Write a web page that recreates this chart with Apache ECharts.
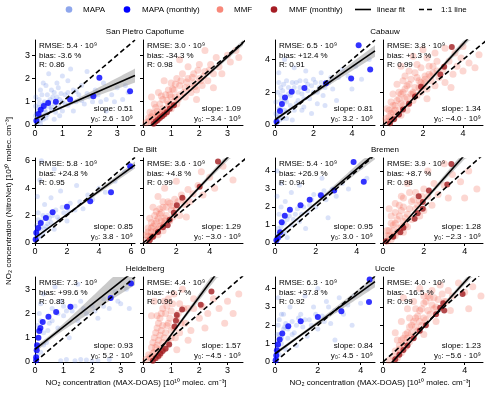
<!DOCTYPE html>
<html><head><meta charset="utf-8">
<script src="https://cdn.jsdelivr.net/npm/echarts@6/dist/echarts.min.js"></script>
<style>html,body{margin:0;padding:0;background:#fff}#c{width:500px;height:401px}</style>
</head><body><div id="c"></div>
<script>
const FONT = '"Liberation Sans", Arial, Helvetica, sans-serif';
// ---------- data ----------
const sites = ['San Pietro Capofiume','Cabauw','De Bilt','Bremen','Heidelberg','Uccle'];
const yMax = [3.65, 5.2, 6.2, 4.72, 3.5, 4.63];
const xMaxMapa = [3.65, 5.2, 6.25, 4.9, 3.5, 4.67];
const xMaxMmf = [3.55, 5.0, 6.0, 4.9, 3.55, 4.9];
const yTicks = [[0,1,2,3],[0,2,4],[0,2,4,6],[0,1,2,3,4],[0,1,2,3],[0,1,2,3,4]];
const xTicksMapa = [[0,1,2,3],[0,2,4],[0,2,4,6],[0,2,4],[0,1,2,3],[0,2,4]];
const xTicksMmf = [[0,1,2,3],[0,2,4],[0,2,4],[0,2,4],[0,1,2,3],[0,2,4]];

const rmseMapa = ['5.4','6.5','5.8','5.4','7.3','6.3'];
const rmseMmf  = ['3.0','3.8','3.6','3.9','4.4','4.0'];
const biasMapa = ['-3.6','+12.4','+24.8','+26.9','+99.6','+37.8'];
const biasMmf  = ['-34.3','+1.3','+4.8','+8.7','+6.7','-16.5'];
const rMapa = ['0.86','0.91','0.95','0.94','0.83','0.92'];
const rMmf  = ['0.98','0.99','0.99','0.98','0.96','0.99'];
const slopeMapa = [0.51, 0.81, 0.85, 0.95, 0.93, 0.84];
const slopeMmf  = [1.09, 1.34, 1.29, 1.28, 1.57, 1.23];
const y0Mapa = [2.6, 3.2, 3.8, 3.0, 5.2, 4.5];      // 10^9
const y0Mmf  = [-3.4, -4.0, -3.0, -2.3, -4.5, -5.6]; // 10^9
// confidence band: [half width at centre, half width at end, centre x]
const bandMapa = [[0.05,0.3,0.8],[0.08,0.35,1.0],[0.05,0.25,1.0],[0.05,0.3,1.0],[0.1,0.6,0.5],[0.08,0.3,1.0]];
const bandMmf  = [[0.03,0.12,0.8],[0.03,0.25,1.0],[0.04,0.3,1.0],[0.04,0.3,1.0],[0.05,0.3,0.8],[0.03,0.2,1.5]];

const spcMapa = [[0.05,0.1],[0.1,0.3],[0.2,0.2],[0.3,0.4],[0.1,0.6],[0.25,0.7],[0.4,0.55],[0.5,0.8],[0.6,0.65],[0.15,0.9],[0.35,1.0],[0.55,1.1],[0.7,0.9],[0.8,1.2],[0.9,0.75],[1.0,1.0],[1.1,1.3],[0.45,1.3],[0.2,1.5],[0.6,1.5],[1.2,0.85],[1.3,1.15],[1.4,1.5],[1.5,1.0],[1.6,1.3],[0.3,1.8],[0.8,1.8],[1.0,2.1],[1.7,1.7],[1.8,0.9],[2.0,1.2],[2.2,1.5],[2.4,1.0],[2.5,1.8],[0.5,2.2],[1.3,2.4],[2.8,1.3],[3.0,1.6],[3.2,1.1],[3.4,1.4],[2.6,0.6],[0.9,0.4],[1.4,0.6],[0.7,0.25],[0.2,0.05],[1.9,2.3],[0.02,0.4],[0.02,0.8],[0.03,1.2],
  [0.1,0.45],[0.2,0.6],[0.3,0.9],[0.4,0.3],[0.5,1.0],[0.6,0.75],[0.7,1.4],[0.8,0.95],[0.9,1.1],[1.0,0.6],[1.1,0.9],[1.2,1.4],[0.15,1.1],[0.25,1.3],[0.35,0.65],[0.45,0.45],[0.65,1.2],[0.75,0.55],[0.85,1.6],[0.95,1.35],[1.5,1.45],[1.7,1.05],[1.9,1.35],[2.1,1.0],[2.3,1.3],[2.6,1.1],[2.9,1.0],[3.3,1.7],[1.2,1.9],[0.4,1.7],[0.1,0.15],[0.05,0.5],[0.15,0.75],[0.3,0.25]];
const spcMapaMonthly = [[0.05,0.18],[0.13,0.47],[0.21,0.65],[0.32,0.82],[0.48,0.94],[0.76,1.0],[1.28,1.1],[2.13,1.23],[2.35,2.03],[3.47,1.45]];
const spcMmf = [[0.1,0.1],[0.2,0.3],[0.3,0.15],[0.35,0.5],[0.4,0.3],[0.5,0.6],[0.5,0.2],[0.6,0.45],[0.6,0.9],[0.7,0.7],[0.7,1.1],[0.8,0.5],[0.8,1.3],[0.9,0.9],[0.9,1.5],[1.0,0.7],[1.0,1.2],[1.0,1.8],[1.1,1.0],[1.1,1.5],[1.2,2.0],[1.2,0.9],[1.3,1.3],[1.3,1.7],[1.4,2.2],[1.5,1.2],[1.5,1.6],[1.6,2.0],[1.6,2.5],[1.7,1.4],[1.8,1.8],[1.8,2.2],[1.9,1.5],[2.0,2.0],[2.0,2.6],[2.1,1.7],[2.2,2.3],[2.3,1.9],[2.4,2.6],[2.5,2.2],[2.6,2.9],[2.7,2.5],[2.8,2.2],[3.0,3.0],[3.1,2.7],[3.3,3.2],[0.4,0.9],[0.3,1.2],[0.55,1.4],[0.75,1.9],[1.3,2.8],[2.2,3.2],[3.4,2.9],[1.9,1.1],[2.5,1.6],
  [0.25,0.55],[0.45,0.75],[0.65,1.25],[0.85,1.05],[0.95,1.3],[1.05,1.55],[1.15,1.75],[1.25,1.1],[1.35,1.9],[1.45,1.4],[1.55,1.85],[1.65,1.6],[1.75,2.05],[1.85,1.65],[1.95,2.35],[2.05,1.9],[2.15,2.1],[2.35,2.35],[0.55,0.4],[0.65,0.55],[0.75,0.6],[0.85,0.7],[0.95,0.85],[1.05,0.85],[1.15,1.2],[0.3,0.35],[0.2,0.15],[0.5,0.45]];
const spcMmfMonthly = [[0.38,0.05],[0.45,0.15],[0.52,0.22],[0.6,0.3],[0.68,0.38],[0.75,0.45],[0.85,0.55],[0.95,0.7],[1.1,0.85]];

const cabMapa = [[0.1,0.2],[0.2,0.5],[0.4,0.4],[0.6,0.8],[0.3,1.0],[0.8,1.2],[1.0,0.9],[0.5,1.5],[1.2,1.5],[1.5,1.1],[0.7,1.9],[1.4,1.9],[1.8,1.6],[2.0,2.0],[0.3,2.3],[1.0,2.3],[1.7,2.5],[2.3,2.3],[2.5,1.8],[0.6,2.7],[1.3,2.7],[2.0,2.8],[2.8,2.6],[3.0,2.2],[0.2,3.2],[1.0,3.5],[0.5,4.0],[1.6,3.3],[2.4,3.2],[3.3,2.9],[3.5,3.4],[3.8,3.0],[4.2,3.6],[4.5,2.8],[4.9,4.0],[2.6,1.2],[1.9,0.7],[3.2,1.5],[0.05,0.7],[0.05,1.4],[0.9,0.3],[4.0,2.2],[0.3,1.8],[2.2,1.3],[0.15,2.0],
  [0.1,0.6],[0.2,1.0],[0.3,1.5],[0.4,2.1],[0.5,0.9],[0.6,1.4],[0.7,2.3],[0.8,1.8],[0.9,2.6],[1.1,1.3],[1.2,2.0],[1.3,2.3],[1.5,1.6],[1.6,2.7],[1.7,2.1],[1.9,2.4],[2.1,2.6],[2.2,2.0],[2.4,2.6],[2.6,2.3],[2.7,2.6],[0.2,2.6],[0.45,2.5],[1.1,2.6],[0.6,0.4],[0.25,0.3],[1.4,0.9],[2.9,2.9]];
const cabMapaMonthly = [[0.08,0.2],[0.26,0.85],[0.36,1.28],[0.52,1.69],[0.87,2.03],[1.53,2.27],[2.65,2.55],[3.96,2.85],[4.35,4.88],[4.95,3.4]];
const cabMmf = [[0.2,0.2],[0.3,0.5],[0.4,0.3],[0.5,0.8],[0.6,0.5],[0.6,1.2],[0.8,0.9],[0.8,1.6],[0.9,0.6],[1.0,1.2],[1.0,2.0],[1.1,1.6],[1.2,0.9],[1.2,2.4],[1.3,1.3],[1.4,1.9],[1.4,2.8],[1.5,1.5],[1.6,2.3],[1.6,3.2],[1.7,1.8],[1.8,2.7],[1.9,2.0],[1.9,3.5],[2.0,2.4],[2.1,3.0],[2.2,2.2],[2.3,3.6],[2.4,2.7],[2.5,3.2],[2.6,2.4],[2.7,3.9],[2.8,2.9],[3.0,3.4],[3.1,2.6],[3.3,3.9],[3.5,3.1],[3.7,3.6],[4.0,3.3],[4.3,3.8],[4.6,3.5],[0.7,2.5],[0.5,1.9],[1.1,3.0],[0.9,3.6],[1.5,4.2],[2.0,4.6],[2.6,4.4],[3.1,4.7],[4.0,4.8],[4.8,4.3],[2.2,1.6],[3.4,2.3],[0.4,1.4],
  [0.3,0.9],[0.5,1.2],[0.7,1.5],[0.9,1.9],[1.1,2.2],[1.3,2.5],[1.5,2.0],[1.7,2.9],[1.9,2.6],[2.1,2.8],[2.3,3.1],[2.5,3.6],[2.7,3.3],[0.6,0.9],[0.9,1.3],[1.2,1.7],[1.5,1.9],[1.8,2.3],[2.1,2.6],[2.4,3.0],[0.4,0.7],[0.8,2.0],[1.0,2.7],[1.3,3.3],[1.7,3.7],[2.2,4.1],[0.2,1.0],[3.6,4.4],[3.9,4.1],[0.15,0.4]];
const cabMmfMonthly = [[0.35,0.1],[0.55,0.35],[0.8,0.65],[1.0,0.95],[1.3,1.3],[1.6,1.75],[1.9,2.34],[2.87,3.09],[3.06,3.56],[3.44,4.77]];

const dbMapa = [[0.05,0.3],[0.1,0.6],[0.2,0.4],[0.3,1.0],[0.5,0.7],[0.4,1.6],[0.7,1.2],[0.8,2.0],[1.0,1.5],[1.2,1.0],[1.3,2.4],[1.5,1.7],[0.6,2.8],[1.8,2.2],[2.0,1.6],[2.2,2.9],[2.5,2.4],[1.0,3.3],[2.8,3.0],[3.0,2.5],[3.3,3.5],[3.6,3.2],[4.0,4.0],[4.4,3.7],[0.2,2.2],[1.6,3.8],[2.6,4.2],[0.3,4.6],[1.2,5.4],[0.4,6.0],[5.0,4.5],[5.6,5.2],[0.1,1.3],[0.15,3.4],
  [0.1,0.9],[0.3,0.5],[0.4,1.2],[0.6,1.0],[0.8,1.4],[0.9,1.8],[1.1,2.0],[1.4,1.9],[1.7,2.6],[2.1,2.3],[0.5,2.0],[0.2,1.7]];
const dbMapaMonthly = [[0.04,0.25],[0.08,0.74],[0.2,1.1],[0.36,1.45],[0.68,1.82],[1.1,2.25],[2.0,2.65],[3.45,3.05],[4.75,3.7],[5.95,5.6]];
const dbMmf = [[0.2,0.2],[0.3,0.5],[0.4,0.3],[0.5,0.8],[0.6,0.5],[0.6,1.2],[0.8,0.9],[0.8,1.6],[0.9,0.6],[1.0,1.2],[1.0,2.1],[1.1,1.6],[1.2,0.9],[1.2,2.6],[1.3,1.4],[1.4,2.0],[1.5,3.0],[1.6,1.6],[1.7,2.4],[1.8,1.9],[1.9,3.2],[2.0,2.5],[2.2,2.0],[2.3,3.5],[2.5,2.8],[2.7,3.9],[2.8,3.0],[3.0,3.6],[3.3,4.2],[3.6,3.5],[4.0,4.8],[4.3,4.0],[0.4,1.8],[0.6,2.6],[0.9,3.4],[1.3,4.0],[2.0,4.5],[3.5,5.2],[4.8,5.6],[5.4,4.6],[0.3,1.1],[2.6,1.9],
  [0.3,0.8],[0.5,1.1],[0.7,1.4],[0.9,1.8],[1.1,2.2],[1.3,1.8],[0.7,2.0],[1.0,2.5],[1.4,2.6],[1.6,2.9],[0.5,0.5],[0.7,0.7],[0.9,1.0],[1.1,1.3],[1.3,1.6],[0.5,1.5],[0.8,2.3],[1.2,3.0],[1.8,2.7],[2.1,3.0],[0.2,0.6],[2.4,3.2]];
const dbMmfMonthly = [[0.4,0.2],[0.6,0.45],[0.9,0.8],[1.2,1.15],[1.48,1.3],[1.6,1.7],[1.85,2.2],[2.03,2.75],[2.36,3.3],[3.4,4.1],[4.5,5.95]];

const brMapa = [[0.05,0.2],[0.1,0.5],[0.2,0.3],[0.3,0.9],[0.5,0.6],[0.6,1.3],[0.8,1.0],[1.0,1.6],[1.2,1.2],[1.4,2.0],[1.6,1.7],[1.8,2.4],[2.0,2.0],[2.2,2.7],[2.5,2.4],[2.8,3.0],[3.0,2.6],[3.3,3.3],[3.6,3.0],[0.2,1.6],[0.5,2.3],[0.8,2.8],[0.3,3.3],[1.2,3.2],[2.3,3.6],[3.8,3.9],[4.2,4.2],[0.1,4.0],[2.6,1.4],[1.5,0.8],[0.1,2.6],[4.5,3.6],
  [0.15,0.8],[0.4,0.5],[0.45,1.1],[0.7,1.5],[0.9,1.3],[1.1,1.9],[1.3,1.6],[1.7,2.1],[1.9,2.7],[2.4,2.9],[0.3,2.0],[0.6,0.3]];
const brMapaMonthly = [[0.07,0.15],[0.15,0.3],[0.25,0.6],[0.33,1.15],[0.48,1.52],[0.73,1.85],[1.25,2.1],[1.7,2.4],[2.25,2.65],[2.9,2.92],[3.85,4.5],[4.35,3.4]];
const brMmf = [[0.2,0.1],[0.3,0.4],[0.4,0.2],[0.5,0.7],[0.6,0.4],[0.6,1.1],[0.8,0.8],[0.8,1.5],[1.0,0.6],[1.0,1.2],[1.0,2.0],[1.2,1.6],[1.2,0.9],[1.4,2.3],[1.4,1.3],[1.6,1.9],[1.6,2.8],[1.8,1.5],[1.8,2.3],[2.0,3.0],[2.0,1.8],[2.2,2.6],[2.4,2.1],[2.5,3.3],[2.7,2.7],[3.0,3.2],[3.2,2.5],[3.4,3.8],[3.8,3.4],[4.2,4.0],[4.6,3.0],[0.4,1.5],[0.6,2.2],[0.9,2.6],[1.2,3.3],[2.2,4.0],[3.0,4.4],[4.0,2.5],[0.2,0.7],
  [0.3,0.7],[0.5,1.0],[0.7,1.3],[0.9,1.8],[1.1,1.4],[1.3,1.9],[0.5,0.4],[0.7,0.6],[0.9,0.9],[1.1,1.0],[0.4,1.1],[0.6,1.7],[0.8,2.1],[1.0,2.5],[1.5,2.4],[1.7,2.1],[0.2,0.4],[0.3,1.9],[1.3,2.8],[1.9,2.6]];
const brMmfMonthly = [[0.15,0.1],[0.5,0.35],[0.85,0.6],[1.0,0.85],[1.55,1.35],[1.7,1.65],[1.75,2.6],[1.95,1.9],[1.95,2.28],[2.25,2.92],[3.15,3.25],[3.35,4.38]];

const hdMapa = [[0.05,0.2],[0.05,0.6],[0.1,1.0],[0.1,1.5],[0.15,2.0],[0.2,0.4],[0.3,1.2],[0.4,0.8],[0.5,1.6],[0.6,2.2],[0.8,1.4],[0.9,2.5],[1.0,1.9],[1.2,1.0],[1.3,2.1],[1.5,1.7],[1.6,2.5],[1.8,2.0],[2.0,2.3],[2.2,1.8],[2.4,2.6],[2.6,2.2],[2.8,2.9],[3.0,2.4],[3.2,3.0],[1.4,0.05],[1.8,0.08],[2.2,0.05],[2.6,0.1],[1.1,0.1],[0.3,2.8],[0.7,3.1],[1.5,3.2],[3.3,2.2],
  [0.08,0.3],[0.1,1.3],[0.2,1.7],[0.3,0.7],[0.45,1.3],[0.6,1.7],[0.8,2.0],[1.0,2.3],[1.1,2.1],[1.4,2.3],[1.7,2.2],[2.1,2.1],[0.2,2.4],[2.4,2.3],[2.9,2.5],[0.9,0.05],[1.6,0.1],[2.0,0.04]];
const hdMapaMonthly = [[0.04,0.07],[0.04,0.2],[0.06,0.48],[0.07,0.69],[0.12,1.0],[0.15,1.28],[0.19,1.4],[0.27,1.65],[0.47,1.86],[0.74,2.06],[1.24,2.27],[2.65,2.64],[3.36,3.23]];
const hdMmf = [[0.1,0.1],[0.2,0.3],[0.3,0.15],[0.3,0.6],[0.4,0.4],[0.4,1.0],[0.5,0.2],[0.5,0.7],[0.5,1.4],[0.6,0.5],[0.6,1.1],[0.6,1.8],[0.7,0.8],[0.7,1.5],[0.7,2.2],[0.8,0.6],[0.8,1.2],[0.8,2.0],[0.9,1.6],[0.9,2.6],[1.0,1.0],[1.0,2.1],[1.1,1.4],[1.1,2.8],[1.2,1.8],[1.3,1.2],[1.3,2.4],[1.4,3.0],[1.5,1.6],[1.6,2.2],[1.7,1.3],[1.8,2.6],[2.0,1.8],[2.1,2.3],[2.3,2.0],[2.5,2.6],[2.7,2.2],[3.0,2.5],[3.2,2.0],[0.3,1.9],[0.4,2.5],[1.2,0.5],[1.6,0.9],[2.2,1.4],[2.9,1.6],[3.4,2.8],
  [0.35,0.8],[0.45,1.2],[0.55,1.6],[0.65,1.3],[0.75,1.0],[0.85,1.5],[0.95,1.8],[1.05,2.4],[0.55,0.9],[0.65,2.0],[0.75,2.5],[0.85,2.3],[0.45,0.6],[0.35,0.35],[0.25,0.2],[0.6,0.3],[0.7,0.55],[0.9,0.8],[1.0,1.3],[1.15,1.0],[1.25,2.0],[1.35,1.6],[1.45,2.2],[1.8,2.2],[0.5,1.9]];
const hdMmfMonthly = [[0.35,0.05],[0.45,0.15],[0.55,0.25],[0.62,0.35],[0.7,0.45],[0.8,0.55],[0.93,0.72],[1.12,1.46],[1.17,1.7],[1.2,1.94],[1.39,2.16],[2.05,2.36],[2.43,2.9]];

const ucMapa = [[0.05,0.2],[0.05,0.6],[0.05,1.0],[0.1,1.5],[0.2,0.4],[0.3,1.0],[0.4,1.8],[0.5,0.7],[0.6,1.3],[0.8,2.2],[0.9,1.6],[1.0,0.9],[1.2,2.6],[1.3,1.9],[1.5,1.4],[1.6,2.3],[1.8,3.0],[2.0,1.8],[2.2,2.5],[2.4,3.3],[2.6,2.1],[2.8,2.8],[3.0,3.5],[3.2,2.6],[3.4,3.1],[3.7,3.6],[4.0,3.2],[4.3,4.0],[0.3,2.6],[0.7,3.0],[1.4,3.6],[2.0,4.0],[2.8,1.2],[3.6,2.0],[0.15,3.5],
  [0.08,0.4],[0.1,0.8],[0.1,1.2],[0.15,2.0],[0.2,1.5],[0.3,1.3],[0.45,1.9],[0.5,2.1],[0.6,1.8],[0.8,1.5],[1.0,2.0],[1.1,2.4],[1.4,2.3],[1.7,2.0],[1.9,2.6],[2.3,2.2],[2.5,3.0],[0.2,2.3],[0.4,2.6],[3.1,3.0]];
const ucMapaMonthly = [[0.03,0.09],[0.06,0.36],[0.09,0.64],[0.14,0.95],[0.22,1.22],[0.34,1.55],[0.62,1.95],[1.2,2.22],[2.0,2.45],[3.1,2.76],[4.39,3.27],[4.42,4.5]];
const ucMmf = [[0.3,0.1],[0.5,0.3],[0.6,0.6],[0.7,0.2],[0.8,0.9],[0.9,0.5],[1.0,1.3],[1.1,0.8],[1.2,1.6],[1.3,1.1],[1.4,2.0],[1.5,1.4],[1.6,2.4],[1.7,1.7],[1.8,2.8],[1.9,2.0],[2.0,3.2],[2.1,2.3],[2.2,3.6],[2.3,2.6],[2.4,3.9],[2.5,2.9],[2.7,3.4],[2.8,4.2],[3.0,3.3],[3.2,3.9],[3.4,3.6],[3.7,4.3],[4.0,3.8],[4.4,4.1],[4.8,3.6],[1.2,2.9],[1.5,3.3],[1.8,4.0],[2.0,1.5],[2.6,2.2],[3.3,2.8],[0.9,2.2],[1.0,3.5],[0.6,1.6],[4.2,2.9],
  [0.9,1.2],[1.1,1.5],[1.3,1.9],[1.5,2.2],[1.7,2.5],[1.9,2.9],[2.1,3.3],[2.3,3.5],[2.5,3.5],[1.4,1.6],[1.6,1.9],[1.8,2.2],[2.0,2.4],[2.2,2.8],[2.4,3.1],[2.6,3.0],[1.2,1.3],[1.0,1.0],[0.8,0.7],[1.3,2.4],[1.6,2.9],[2.0,3.6],[2.9,3.7],[3.1,3.3],[0.7,1.2]];
const ucMmfMonthly = [[0.6,0.15],[0.8,0.4],[1.0,0.65],[1.2,0.9],[1.5,1.3],[1.8,1.7],[2.1,2.0],[2.6,2.6],[2.8,2.95],[2.95,3.2],[3.0,2.8],[3.9,3.7]];

const cloudsMapa = [spcMapa, cabMapa, dbMapa, brMapa, hdMapa, ucMapa];
const monthlyMapa = [spcMapaMonthly, cabMapaMonthly, dbMapaMonthly, brMapaMonthly, hdMapaMonthly, ucMapaMonthly];
const cloudsMmf = [spcMmf, cabMmf, dbMmf, brMmf, hdMmf, ucMmf];
const monthlyMmf = [spcMmfMonthly, cabMmfMonthly, dbMmfMonthly, brMmfMonthly, hdMmfMonthly, ucMmfMonthly];

// ---------- layout / style ----------
const rowTop = [40, 158, 277];
const plotH = 85, plotW = 100;
const colLeft = [35, 143, 275, 383];
const C = {
  mapa: 'rgba(60,105,225,0.24)', mapaM: '#0000ff',
  mmf: 'rgba(243,100,80,0.32)', mmfM: '#a11d21',
  band: 'rgba(150,150,150,0.5)'
};

const grids = [], xAxes = [], yAxes = [], series = [], graphics = [];

function fmtY0(v) { return (v < 0 ? '\u2212' + Math.abs(v).toFixed(1) : v.toFixed(1)) + ' \u00b7 10\u2079'; }

function addPanel(site, k) {
  const gi = grids.length;
  const row = Math.floor(site / 2), pair = site % 2;
  const L = colLeft[pair * 2 + k], T = rowTop[row];
  const isMapa = k === 0;
  const xmax = isMapa ? xMaxMapa[site] : xMaxMmf[site];
  const ymax = yMax[site];
  const xt = isMapa ? xTicksMapa[site] : xTicksMmf[site];
  const yt = yTicks[site];
  grids.push({ left: L, top: T, width: plotW, height: plotH, containLabel: false });
  xAxes.push({ type: 'value', gridIndex: gi, min: 0, max: xmax, interval: xt[1] - xt[0],
    axisLine: { show: true, onZero: false, lineStyle: { color: '#000', width: 1 } },
    axisTick: { show: true, length: 3, customValues: xt, lineStyle: { color: '#000', width: 1 } },
    axisLabel: { show: true, customValues: xt, margin: 4, fontSize: 9, color: '#000', fontFamily: FONT },
    splitLine: { show: false } });
  yAxes.push({ type: 'value', gridIndex: gi, min: 0, max: ymax, interval: yt[1] - yt[0],
    axisLine: { show: true, onZero: false, lineStyle: { color: '#000', width: 1 } },
    axisTick: { show: true, length: 3, customValues: yt, lineStyle: { color: '#000', width: 1 } },
    axisLabel: { show: isMapa, customValues: yt, margin: 5, fontSize: 9, color: '#000', fontFamily: FONT },
    splitLine: { show: false } });

  const s = isMapa ? slopeMapa[site] : slopeMmf[site];
  const b = (isMapa ? y0Mapa[site] : y0Mmf[site]) / 10;
  const band = isMapa ? bandMapa[site] : bandMmf[site];
  const m = Math.max(xmax, ymax);

  series.push({ type: 'scatter', name: isMapa ? 'MAPA' : 'MMF', xAxisIndex: gi, yAxisIndex: gi,
    data: isMapa ? cloudsMapa[site] : cloudsMmf[site], symbolSize: isMapa ? 5 : 7,
    itemStyle: { color: isMapa ? C.mapa : C.mmf }, silent: true, z: 1, animation: false });
  series.push({ type: 'custom', xAxisIndex: gi, yAxisIndex: gi, data: [[0, 0]], silent: true, z: 2,
    clip: true, animation: false,
    renderItem: function (params, api) {
      const cs = params.coordSys;
      const up = [], lo = [];
      const n = 50, wm = band[0], we = band[1], xc = band[2];
      const clamp = p => [Math.min(Math.max(p[0], cs.x), cs.x + cs.width), Math.min(Math.max(p[1], cs.y), cs.y + cs.height)];
      for (let j = 0; j <= n; j++) {
        const x = xmax * j / n;
        const c = s * x + b;
        const t = (x - xc) / (xmax - xc);
        const w = Math.sqrt(wm * wm + (we * we - wm * wm) * t * t);
        up.push(clamp(api.coord([x, c + w])));
        lo.push(clamp(api.coord([x, c - w])));
      }
      return { type: 'polygon', shape: { points: up.concat(lo.reverse()) }, style: { fill: C.band } };
    } });
  series.push({ type: 'line', name: 'linear fit', xAxisIndex: gi, yAxisIndex: gi,
    data: [[0, b], [xmax, s * xmax + b]], symbol: 'none', clip: true, silent: true, z: 4, animation: false,
    lineStyle: { color: '#000', width: 1.6 } });
  series.push({ type: 'line', name: '1:1 line', xAxisIndex: gi, yAxisIndex: gi,
    data: [[0, 0], [m, m]], symbol: 'none', clip: true, silent: true, z: 4, animation: false,
    lineStyle: { color: '#000', width: 1.6, type: [5, 3] } });
  series.push({ type: 'scatter', name: isMapa ? 'MAPA (monthly)' : 'MMF (monthly)', xAxisIndex: gi, yAxisIndex: gi,
    data: isMapa ? monthlyMapa[site] : monthlyMmf[site], symbolSize: 6,
    itemStyle: { color: isMapa ? C.mapaM : C.mmfM }, silent: true, z: 3, animation: false });

  const txt = (x, y, text, align) => graphics.push({ type: 'text', x: x, y: y, z: 100,
    style: { text: text, x: 0, y: 0, fill: '#000', font: '8px ' + FONT, textAlign: align, align: align,
      textVerticalAlign: 'middle', verticalAlign: 'middle' } });
  txt(L + 4, T + 6, 'RMSE: ' + (isMapa ? rmseMapa[site] : rmseMmf[site]) + ' \u00b7 10\u2079', 'left');
  txt(L + 4, T + 15.5, 'bias: ' + (isMapa ? biasMapa[site] : biasMmf[site]) + ' %', 'left');
  txt(L + 4, T + 25, 'R: ' + (isMapa ? rMapa[site] : rMmf[site]), 'left');
  txt(L + plotW - 2, T + plotH - 16, 'slope: ' + s.toFixed(2), 'right');
  txt(L + plotW - 2, T + plotH - 6, 'y\u2080: ' + fmtY0(isMapa ? y0Mapa[site] : y0Mmf[site]), 'right');
}

for (let i = 0; i < sites.length; i++) {
  addPanel(i, 0); addPanel(i, 1);
  const row = Math.floor(i / 2), pair = i % 2;
  graphics.push({ type: 'text', x: colLeft[pair * 2 + 1] + 2, y: rowTop[row] - 8, z: 100,
    style: { text: sites[i], x: 0, y: 0, fill: '#000', font: '8px ' + FONT, textAlign: 'center', align: 'center',
      textVerticalAlign: 'middle', verticalAlign: 'middle' } });
}
// axis titles
const xTitle = 'NO\u2082 concentration (MAX-DOAS) [10\u00b9\u2070 molec. cm\u207b\u00b3]';
const yTitle = 'NO\u2082 concentration (NitroNet) [10\u00b9\u2070 molec. cm\u207b\u00b3]';
[136, 380].forEach(cx => graphics.push({ type: 'text', x: cx, y: 383, z: 100,
  style: { text: xTitle, x: 0, y: 0, fill: '#000', font: '8px ' + FONT, textAlign: 'center', align: 'center',
    textVerticalAlign: 'middle', verticalAlign: 'middle' } }));
graphics.push({ type: 'text', x: 9, y: 201, rotation: Math.PI / 2, z: 100,
  style: { text: yTitle, x: 0, y: 0, fill: '#000', font: '8px ' + FONT, textAlign: 'center', align: 'center',
    textVerticalAlign: 'middle', verticalAlign: 'middle' } });

// legend
const legendNames = ['MAPA', 'MAPA (monthly)', 'MMF', 'MMF (monthly)', 'linear fit', '1:1 line'];
const legendX = [69, 127, 220, 274, 355, 419];
const legendTextX = [83, 142, 234, 289, 377, 441];
const legY = 9.5;
const legColors = ['#8ea6ec', '#0000ff', '#f8887a', '#a51c24'];
for (let i = 0; i < 4; i++) {
  graphics.push({ type: 'circle', shape: { cx: legendX[i], cy: legY, r: 3.3 }, style: { fill: legColors[i] }, z: 100 });
}
graphics.push({ type: 'line', shape: { x1: 355, y1: legY, x2: 371, y2: legY }, style: { stroke: '#000', lineWidth: 1.6 }, z: 100 });
graphics.push({ type: 'line', shape: { x1: 419, y1: legY, x2: 434, y2: legY }, style: { stroke: '#000', lineWidth: 1.6, lineDash: [5, 3] }, z: 100 });
legendNames.forEach((n, i) => graphics.push({ type: 'text', x: legendTextX[i], y: legY, z: 100,
  style: { text: n, x: 0, y: 0, fill: '#000', font: '8px ' + FONT, textAlign: 'left', align: 'left',
    textVerticalAlign: 'middle', verticalAlign: 'middle' } }));

const chart = echarts.init(document.getElementById('c'), null, { renderer: 'canvas' });
chart.setOption({
  animation: false,
  backgroundColor: '#fff',
  grid: grids, xAxis: xAxes, yAxis: yAxes, series: series, graphic: graphics
});
</script></body></html>
